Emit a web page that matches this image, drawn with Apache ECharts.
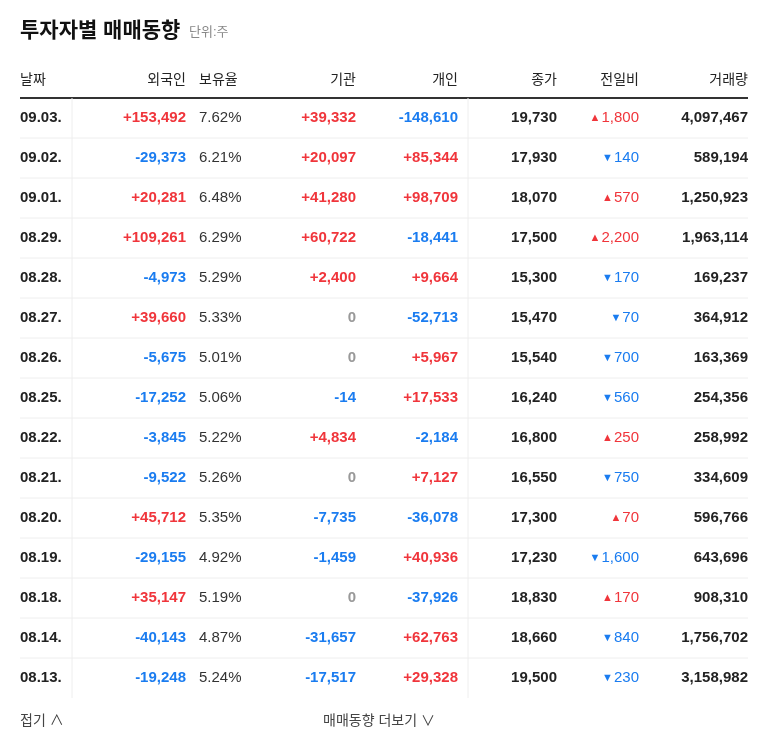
<!DOCTYPE html>
<html lang="ko">
<head>
<meta charset="UTF-8">
<title>투자자별 매매동향</title>
<script src="https://cdn.jsdelivr.net/npm/echarts@6/dist/echarts.min.js"></script>
<style>html,body{margin:0;background:#fff}#chart{width:768px;height:749px}</style>
</head>
<body>
<div id="chart"></div>
<script>
var dates = ['09.03.','09.02.','09.01.','08.29.','08.28.','08.27.','08.26.','08.25.','08.22.','08.21.','08.20.','08.19.','08.18.','08.14.','08.13.'];
var foreign = [153492,-29373,20281,109261,-4973,39660,-5675,-17252,-3845,-9522,45712,-29155,35147,-40143,-19248];
var holdRatio = ['7.62%','6.21%','6.48%','6.29%','5.29%','5.33%','5.01%','5.06%','5.22%','5.26%','5.35%','4.92%','5.19%','4.87%','5.24%'];
var institution = [39332,20097,41280,60722,2400,0,0,-14,4834,0,-7735,-1459,0,-31657,-17517];
var individual = [-148610,85344,98709,-18441,9664,-52713,5967,17533,-2184,7127,-36078,40936,-37926,62763,29328];
var closePrice = [19730,17930,18070,17500,15300,15470,15540,16240,16800,16550,17300,17230,18830,18660,19500];
var change = [1800,-140,570,2200,-170,-70,-700,-560,250,-750,70,-1600,170,-840,-230];
var volume = [4097467,589194,1250923,1963114,169237,364912,163369,254356,258992,334609,596766,643696,908310,1756702,3158982];
var headers = ['날짜','외국인','보유율','기관','개인','종가','전일비','거래량'];

var RED = '#f0353b', BLUE = '#1a7cf0', GRAY = '#999', DARK = '#222';
var FONT = 'Arial, "Liberation Sans", "Noto Sans CJK KR", sans-serif';

function fmt(n){ return Math.abs(n).toLocaleString('en-US'); }
function signed(n){
    if (n === 0) return {t:'0', c:GRAY};
    return n > 0 ? {t:'+'+fmt(n), c:RED} : {t:'-'+fmt(n), c:BLUE};
}

var rows = dates.map(function(d,i){ return [i]; });

function renderItem(params, api){
    var i = api.value(0);
    var y = api.coord([0, i])[1];
    var band = api.size([0, 1])[1];
    var children = [];
    function txt(x, s, color, align, bold){
        children.push({type:'text', style:{x:x, y:y, text:s, fill:color, align:align, verticalAlign:'middle',
            font:(bold ? 'bold ' : '') + '15px ' + FONT}});
    }
    txt(20, dates[i], DARK, 'left', true);
    var f = signed(foreign[i]); txt(186, f.t, f.c, 'right', true);
    txt(199, holdRatio[i], '#333', 'left', false);
    var g = signed(institution[i]); txt(356, g.t, g.c, 'right', true);
    var p = signed(individual[i]); txt(458, p.t, p.c, 'right', true);
    txt(557, fmt(closePrice[i]), DARK, 'right', true);
    var ch = change[i], cc = ch > 0 ? RED : BLUE;
    children.push({type:'text', style:{x:639, y:y, align:'right', verticalAlign:'middle',
        text:'{a|' + (ch > 0 ? '▲' : '▼') + '}{n|' + fmt(ch) + '}',
        rich:{a:{fill:cc, font:'11px ' + FONT, padding:[0,1,0,0]}, n:{fill:cc, font:'15px ' + FONT}}}});
    txt(748, fmt(volume[i]), DARK, 'right', true);
    var top = y - band/2, bot = y + band/2;
    children.push({type:'line', shape:{x1:72, y1:top, x2:72, y2:bot}, style:{stroke:'#eee', lineWidth:1}});
    children.push({type:'line', shape:{x1:468, y1:top, x2:468, y2:bot}, style:{stroke:'#eee', lineWidth:1}});
    if (i < dates.length - 1)
        children.push({type:'line', shape:{x1:20, y1:bot, x2:748, y2:bot}, style:{stroke:'#eee', lineWidth:1}});
    return {type:'group', children:children};
}

var hx = [20,186,199,356,458,557,639,748];
var ha = ['left','right','left','right','right','right','right','right'];
var graphics = headers.map(function(h,k){
    return {type:'text', x:hx[k], y:80, style:{text:h, fill:'#222', font:'14px ' + FONT, align:ha[k], verticalAlign:'middle'}};
});
graphics.push({type:'line', shape:{x1:20, y1:98, x2:748, y2:98}, style:{stroke:'#333', lineWidth:2}});
graphics.push({type:'text', x:20, y:31, style:{text:'투자자별 매매동향', fill:'#111', font:'bold 21px ' + FONT, verticalAlign:'middle'}});
graphics.push({type:'text', x:189, y:32, style:{text:'단위:주', fill:'#888', font:'13px ' + FONT, verticalAlign:'middle'}});
graphics.push({type:'text', x:20, y:721, style:{text:'접기 ∧', fill:'#444', font:'14px ' + FONT, verticalAlign:'middle'}});
graphics.push({type:'text', x:323, y:721, style:{text:'매매동향 더보기 ∨', fill:'#444', font:'14px ' + FONT, verticalAlign:'middle'}});

var chart = echarts.init(document.getElementById('chart'));
chart.setOption({
    animation:false,
    grid:{left:0, right:0, top:98, bottom:51},
    xAxis:{type:'value', min:0, max:768, show:false},
    yAxis:{type:'category', data:dates, inverse:true, show:false},
    graphic:graphics,
    series:[{type:'custom', renderItem:renderItem, data:rows, encode:{x:-1, y:0}}]
});
</script>
</body>
</html>
